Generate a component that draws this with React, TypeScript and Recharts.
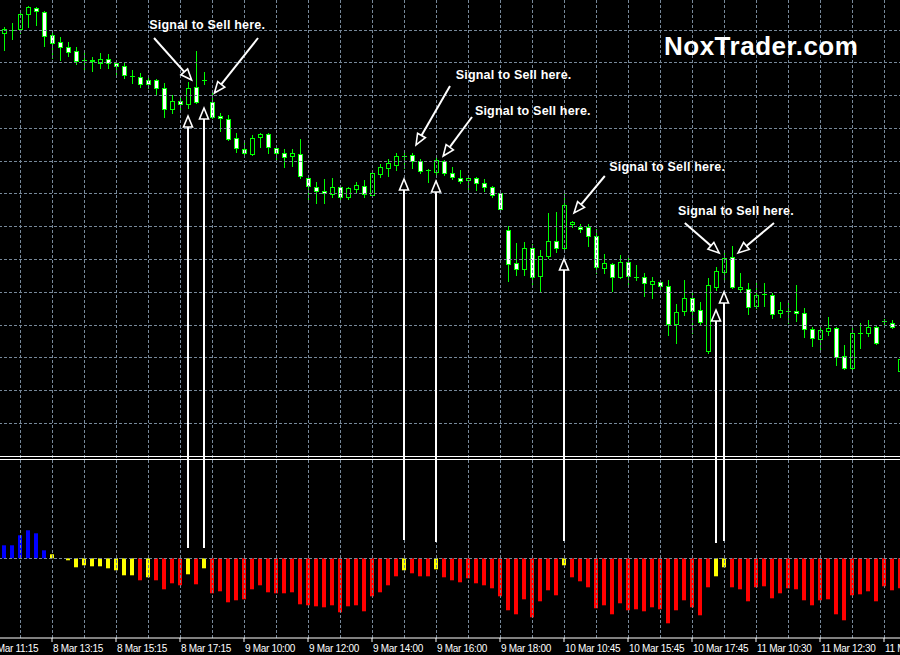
import React from "react"
import { Bar, Cell, ComposedChart, ReferenceDot, ReferenceLine, XAxis, YAxis } from "recharts"

// 15 minute candles, bar 0 is the first one on screen
const opens = [
  1.3427, 1.3430, 1.3431, 1.3446, 1.3452, 1.3448, 1.3425, 1.3418, 1.3413, 1.3409,
  1.3400, 1.3400, 1.3397, 1.3401, 1.3397, 1.3394, 1.3384, 1.3383, 1.3380, 1.3380,
  1.3372, 1.3351, 1.3359, 1.3356, 1.3373, 1.3380, 1.3358, 1.3344, 1.3341, 1.3322,
  1.3311, 1.3306, 1.3323, 1.3326, 1.3312, 1.3307, 1.3304, 1.3306, 1.3282, 1.3273,
  1.3269, 1.3266, 1.3273, 1.3263, 1.3271, 1.3274, 1.3265, 1.3286, 1.3292, 1.3295,
  1.3304, 1.3305, 1.3299, 1.3290, 1.3288, 1.3299, 1.3287, 1.3282, 1.3280, 1.3282,
  1.3277, 1.3273, 1.3267, 1.3230, 1.3197, 1.3191, 1.3212, 1.3184, 1.3204, 1.3219,
  1.3212, 1.3236, 1.3233, 1.3233, 1.3224, 1.3192, 1.3196, 1.3183, 1.3198, 1.3183,
  1.3183, 1.3176, 1.3178, 1.3174, 1.3136, 1.3149, 1.3162, 1.3150, 1.3109, 1.3173,
  1.3188, 1.3203, 1.3171, 1.3171, 1.3154, 1.3166, 1.3165, 1.3147, 1.3149, 1.3149,
  1.3147, 1.3131, 1.3121, 1.3129, 1.3132, 1.3104, 1.3092, 1.3127, 1.3127, 1.3133,
  1.3139, 1.3137, 1.3089,
]
const highs = [
  1.3433, 1.3437, 1.3447, 1.3454, 1.3453, 1.3449, 1.3429, 1.3423, 1.3418, 1.3413,
  1.3407, 1.3403, 1.3407, 1.3406, 1.3398, 1.3397, 1.3390, 1.3387, 1.3383, 1.3381,
  1.3377, 1.3365, 1.3364, 1.3378, 1.3409, 1.3388, 1.3370, 1.3347, 1.3345, 1.3327,
  1.3317, 1.3325, 1.3327, 1.3327, 1.3314, 1.3311, 1.3311, 1.3321, 1.3284, 1.3278,
  1.3281, 1.3282, 1.3274, 1.3273, 1.3278, 1.3280, 1.3290, 1.3296, 1.3301, 1.3307,
  1.3307, 1.3307, 1.3301, 1.3291, 1.3305, 1.3300, 1.3293, 1.3290, 1.3285, 1.3283,
  1.3281, 1.3274, 1.3270, 1.3234, 1.3217, 1.3218, 1.3216, 1.3210, 1.3247, 1.3248,
  1.3267, 1.3239, 1.3236, 1.3236, 1.3231, 1.3206, 1.3197, 1.3205, 1.3203, 1.3195,
  1.3187, 1.3183, 1.3180, 1.3180, 1.3156, 1.3180, 1.3168, 1.3158, 1.3182, 1.3193,
  1.3210, 1.3214, 1.3187, 1.3177, 1.3177, 1.3177, 1.3167, 1.3158, 1.3157, 1.3175,
  1.3152, 1.3133, 1.3133, 1.3143, 1.3133, 1.3115, 1.3134, 1.3137, 1.3140, 1.3135,
  1.3141, 1.3140, 1.3104,
]
const lows = [
  1.3410, 1.3421, 1.3427, 1.3433, 1.3435, 1.3414, 1.3402, 1.3400, 1.3404, 1.3396,
  1.3390, 1.3389, 1.3392, 1.3392, 1.3385, 1.3382, 1.3377, 1.3373, 1.3372, 1.3365,
  1.3343, 1.3347, 1.3350, 1.3352, 1.3357, 1.3376, 1.3342, 1.3329, 1.3320, 1.3308,
  1.3305, 1.3305, 1.3313, 1.3307, 1.3301, 1.3293, 1.3294, 1.3282, 1.3260, 1.3257,
  1.3257, 1.3263, 1.3260, 1.3261, 1.3267, 1.3263, 1.3264, 1.3283, 1.3284, 1.3290,
  1.3292, 1.3292, 1.3287, 1.3278, 1.3285, 1.3285, 1.3281, 1.3277, 1.3271, 1.3270,
  1.3269, 1.3263, 1.3250, 1.3179, 1.3185, 1.3185, 1.3173, 1.3169, 1.3202, 1.3208,
  1.3208, 1.3233, 1.3228, 1.3214, 1.3187, 1.3187, 1.3169, 1.3182, 1.3176, 1.3180,
  1.3164, 1.3162, 1.3170, 1.3125, 1.3117, 1.3145, 1.3127, 1.3135, 1.3107, 1.3170,
  1.3178, 1.3172, 1.3168, 1.3146, 1.3152, 1.3154, 1.3142, 1.3143, 1.3137, 1.3139,
  1.3123, 1.3114, 1.3108, 1.3125, 1.3095, 1.3091, 1.3089, 1.3112, 1.3124, 1.3116,
  1.3133, 1.3132, 1.3087,
]
const closes = [
  1.3431, 1.3430, 1.3446, 1.3453, 1.3449, 1.3424, 1.3417, 1.3413, 1.3408, 1.3399,
  1.3400, 1.3399, 1.3401, 1.3397, 1.3394, 1.3385, 1.3384, 1.3376, 1.3376, 1.3372,
  1.3351, 1.3359, 1.3356, 1.3372, 1.3358, 1.3380, 1.3343, 1.3342, 1.3321, 1.3312,
  1.3307, 1.3322, 1.3326, 1.3313, 1.3307, 1.3303, 1.3307, 1.3284, 1.3274, 1.3269,
  1.3267, 1.3273, 1.3263, 1.3272, 1.3275, 1.3266, 1.3287, 1.3293, 1.3297, 1.3304,
  1.3304, 1.3299, 1.3289, 1.3290, 1.3300, 1.3287, 1.3283, 1.3279, 1.3282, 1.3277,
  1.3273, 1.3265, 1.3251, 1.3196, 1.3191, 1.3212, 1.3183, 1.3204, 1.3219, 1.3212,
  1.3255, 1.3238, 1.3231, 1.3224, 1.3193, 1.3197, 1.3183, 1.3198, 1.3184, 1.3183,
  1.3177, 1.3179, 1.3174, 1.3136, 1.3148, 1.3162, 1.3149, 1.3138, 1.3175, 1.3189,
  1.3202, 1.3173, 1.3173, 1.3153, 1.3165, 1.3166, 1.3146, 1.3150, 1.3149, 1.3147,
  1.3131, 1.3122, 1.3130, 1.3132, 1.3103, 1.3092, 1.3127, 1.3127, 1.3133, 1.3117,
  1.3139, 1.3133, 1.3101,
]

// histogram in the lower window
const oscValues = [
  1.3, 1.3, 2.3, 2.8, 2.5, 0.8, 0.4, 0, -0.2, -0.9,
  -0.7, -0.8, -0.8, -1.0, -1.2, -1.7, -1.7, -2.2, -1.9, -2.2,
  -3.1, -2.5, -2.7, -1.6, -2.6, -1.0, -3.5, -3.3, -4.4, -4.2,
  -4.1, -3.1, -2.7, -3.4, -3.5, -3.5, -3.4, -4.6, -4.7, -4.8,
  -4.9, -4.7, -5.4, -4.8, -4.7, -5.3, -3.8, -3.4, -2.7, -1.8,
  -1.2, -1.5, -1.8, -1.8, -1.1, -1.9, -2.2, -2.4, -2.0, -2.5,
  -2.7, -3.0, -3.8, -5.2, -5.6, -4.1, -5.9, -4.3, -3.2, -3.7,
  -0.7, -1.9, -2.3, -2.9, -5.0, -4.7, -5.6, -4.5, -5.2, -5.1,
  -5.3, -4.9, -5.1, -6.5, -5.2, -4.2, -4.9, -5.7, -2.9, -1.8,
  -0.9, -2.9, -3.1, -4.3, -2.9, -2.8, -4.0, -3.5, -3.0, -3.1,
  -4.2, -4.7, -4.2, -4.1, -5.6, -6.2, -3.7, -3.6, -3.3, -4.3,
  -2.8, -3.2, -3.0,
]
const oscColors = [
  "B", "B", "B", "B", "B", "B", "Y", "Y", "Y", "Y",
  "Y", "Y", "Y", "Y", "Y", "Y", "Y", "R", "Y", "R",
  "R", "R", "R", "Y", "R", "Y", "R", "R", "R", "R",
  "R", "R", "R", "R", "R", "R", "R", "R", "R", "R",
  "R", "R", "R", "R", "R", "R", "R", "R", "R", "R",
  "Y", "R", "R", "R", "Y", "R", "R", "R", "R", "R",
  "R", "R", "R", "R", "R", "R", "R", "R", "R", "R",
  "Y", "R", "R", "R", "R", "R", "R", "R", "R", "R",
  "R", "R", "R", "R", "R", "R", "R", "R", "R", "Y",
  "Y", "R", "R", "R", "R", "R", "R", "R", "R", "R",
  "R", "R", "R", "R", "R", "R", "R", "R", "R", "R",
  "R", "R", "R",
]
const colorOf: Record<string, string> = { B: "#0000ff", Y: "#ffff00", R: "#ff0000" }

// time axis (bar index -> label)
const labelBars = [-2, 6, 14, 22, 30, 38, 46, 54, 62, 70, 78, 86, 94, 102, 110]
const timeLabels = [
  "8 Mar 11:15", "8 Mar 13:15", "8 Mar 15:15", "8 Mar 17:15", "9 Mar 10:00",
  "9 Mar 12:00", "9 Mar 14:00", "9 Mar 16:00", "9 Mar 18:00", "10 Mar 10:45",
  "10 Mar 15:45", "10 Mar 17:45", "11 Mar 10:30", "11 Mar 12:30", "11 Mar 14:30",
]

// sell signals: vertical arrows from the histogram up to the candle
const signalBars = [23, 25, 50, 54, 70, 89, 90]
const signalTipPrices = [1.3344, 1.3352, 1.3281, 1.3279, 1.3201, 1.315, 1.3168]
const signalBasePrices = [1.2912, 1.2912, 1.292, 1.2918, 1.2919, 1.2917, 1.2919]

// "Signal to Sell here." notes and their pointers
const noteBars = [25.4, 63.7, 66.1, 82.9, 91.5]
const notePrices = [1.3431, 1.3381, 1.3345, 1.3289, 1.3245]
const pointerFromBars = [18.75, 31.75, 55.75, 58.5, 75.1, 85.1, 96.25]
const pointerFromPrices = [1.3422, 1.3422, 1.3374, 1.3343, 1.3284, 1.3237, 1.3237]
const pointerToBars = [23.45, 26.3, 51.5, 54.9, 71.25, 89.4, 91.75]
const pointerToPrices = [1.338, 1.3367, 1.3315, 1.3304, 1.3247, 1.3207, 1.3207]

const LIME = "#00ff00"
const GRID = "#778899"
const FONT = "'Liberation Sans', Arial, sans-serif"

const gridBars = Array.from({ length: 29 }, (_, k) => -2 + 4 * k)
const gridPrices = Array.from({ length: 13 }, (_, k) => 1.343 - k * 0.003278)

const rows = Array.from({ length: 115 }, (_, n) => {
  const i = n - 2
  if (i < 0) return { i, range: null, open: null, close: null, osc: null, color: "R" }
  return {
    i,
    range: [lows[i], highs[i]],
    open: opens[i],
    close: closes[i],
    osc: oscValues[i],
    color: oscColors[i],
  }
})

const Candle = (props: any) => {
  const { x, y, width, height, payload } = props
  if (!payload || payload.open == null) return <g />
  const [low, high] = payload.range
  const span = high - low || 1
  const py = (p: number) => y + ((high - p) / span) * height
  const cx = Math.round(x + width / 2)
  const bear = payload.close < payload.open
  const top = Math.round(py(Math.max(payload.open, payload.close)))
  const bottom = Math.round(py(Math.min(payload.open, payload.close)))
  return (
    <g>
      <line x1={cx + 0.5} x2={cx + 0.5} y1={Math.round(py(high))} y2={Math.round(py(low)) + 1} stroke={LIME} />
      {bottom - top < 1 ? (
        <line x1={cx - 2} x2={cx + 3} y1={top + 0.5} y2={top + 0.5} stroke={LIME} />
      ) : (
        <rect x={cx - 1.5} y={top + 0.5} width={4} height={bottom - top} fill={bear ? "#ffffff" : "#000000"} stroke={LIME} />
      )}
    </g>
  )
}

const arrow = (props: any) => {
  const { x1, y1, x2, y2 } = props
  const dx = x2 - x1
  const dy = y2 - y1
  const len = Math.hypot(dx, dy) || 1
  const ux = dx / len
  const uy = dy / len
  const head = 11
  const half = 4.5
  const bx = x2 - ux * head
  const by = y2 - uy * head
  const pts = `${x2},${y2} ${bx - uy * half},${by + ux * half} ${bx + uy * half},${by - ux * half}`
  return (
    <g>
      <line x1={x1} y1={y1} x2={bx} y2={by} stroke="#ffffff" strokeWidth={2} />
      <polygon points={pts} fill="#000000" stroke="#ffffff" strokeWidth={1.6} />
    </g>
  )
}

const TimeTick = (props: any) => {
  const { x, y, payload } = props
  const idx = labelBars.indexOf(payload.value)
  return (
    <text x={x + 1} y={y + 8} fill="#ffffff" fontSize={10} letterSpacing={-0.3} fontFamily={FONT}>
      {timeLabels[idx]}
    </text>
  )
}

export default function App() {
  return (
    <div style={{ position: "absolute", left: 0, top: 0, width: 900, height: 655, overflow: "hidden", background: "#000" }}>
      <div style={{ position: "absolute", left: -16, top: 0 }}>
        <ComposedChart width={920} height={655} data={rows} margin={{ top: 0, right: 0, bottom: 0, left: 0 }}>
          <XAxis
            xAxisId="t"
            dataKey="i"
            type="number"
            domain={[-2.5, 112.5]}
            allowDataOverflow
            ticks={labelBars}
            interval={0}
            height={17}
            tickSize={4}
            axisLine={{ stroke: "#ffffff" }}
            tickLine={{ stroke: "#ffffff" }}
            tick={<TimeTick />}
          />
          <XAxis xAxisId="candle" dataKey="i" type="category" height={0} hide />
          <XAxis xAxisId="oscX" dataKey="i" type="category" height={0} hide />
          <YAxis yAxisId="price" type="number" domain={[1.2822, 1.346]} allowDataOverflow hide />
          <YAxis yAxisId="oscY" type="number" domain={[-7.97, 55.83]} allowDataOverflow hide />

          {gridBars.map((b) => (
            <ReferenceLine key={"gx" + b} xAxisId="t" yAxisId="price" x={b} stroke={GRID} strokeDasharray="3 2" shapeRendering="crispEdges" />
          ))}
          {gridPrices.map((p, k) => (
            <ReferenceLine key={"gy" + k} xAxisId="t" yAxisId="price" y={p} stroke={GRID} strokeDasharray="3 2" shapeRendering="crispEdges" />
          ))}
          <ReferenceLine xAxisId="t" yAxisId="oscY" y={0} stroke={GRID} strokeDasharray="3 2" shapeRendering="crispEdges" />

          <Bar xAxisId="candle" yAxisId="price" dataKey="range" barSize={4} shape={Candle} isAnimationActive={false} />
          <Bar xAxisId="oscX" yAxisId="oscY" dataKey="osc" barSize={4} isAnimationActive={false}>
            {rows.map((r, n) => (
              <Cell key={n} fill={colorOf[r.color]} />
            ))}
          </Bar>

          <ReferenceLine xAxisId="t" yAxisId="price" y={1.30035} stroke="#ffffff" shapeRendering="crispEdges" />
          <ReferenceLine xAxisId="t" yAxisId="price" y={1.30005} stroke="#ffffff" shapeRendering="crispEdges" />

          {signalBars.map((b, k) => (
            <ReferenceLine
              key={"sig" + k}
              xAxisId="t"
              yAxisId="price"
              ifOverflow="visible"
              segment={[{ x: b, y: signalBasePrices[k] }, { x: b, y: signalTipPrices[k] }]}
              shape={arrow}
            />
          ))}
          {pointerFromBars.map((b, k) => (
            <ReferenceLine
              key={"ptr" + k}
              xAxisId="t"
              yAxisId="price"
              ifOverflow="visible"
              segment={[{ x: b, y: pointerFromPrices[k] }, { x: pointerToBars[k], y: pointerToPrices[k] }]}
              shape={arrow}
            />
          ))}
          {noteBars.map((b, k) => (
            <ReferenceDot
              key={"note" + k}
              xAxisId="t"
              yAxisId="price"
              x={b}
              y={notePrices[k]}
              r={0}
              ifOverflow="visible"
              shape={(p: any) => (
                <text x={p.cx} y={p.cy} textAnchor="middle" fill="#ffffff" fontSize={12.5} fontWeight="bold" letterSpacing={0.2} fontFamily={FONT}>
                  Signal to Sell here.
                </text>
              )}
            />
          ))}
          <ReferenceDot
            xAxisId="t"
            yAxisId="price"
            x={82.5}
            y={1.3405}
            r={0}
            ifOverflow="visible"
            shape={(p: any) => (
              <text x={p.cx} y={p.cy} fill="#ffffff" fontSize={26} fontWeight="bold" letterSpacing={0.5} fontFamily={FONT}>
                NoxTrader.com
              </text>
            )}
          />
        </ComposedChart>
      </div>
    </div>
  )
}
